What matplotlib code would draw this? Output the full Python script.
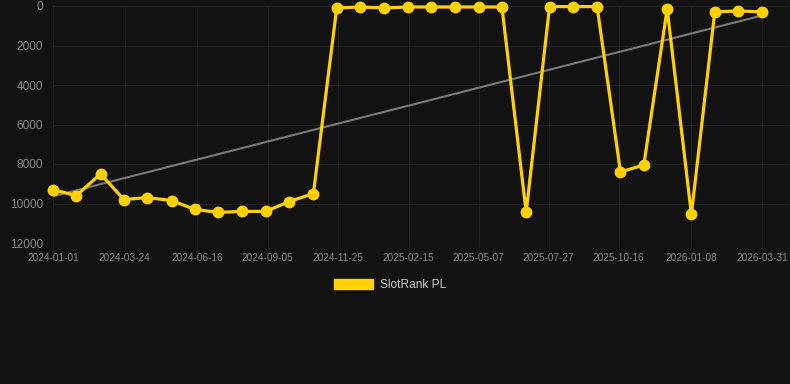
import numpy as np
import pandas as pd
import matplotlib
matplotlib.use("Agg")
import matplotlib.pyplot as plt
import matplotlib.dates as mdates
from matplotlib.patches import Patch

plt.rcParams["font.family"] = ["Liberation Sans", "DejaVu Sans"]

dates = [
    "2024-01-01", "2024-01-28", "2024-02-25", "2024-03-23", "2024-04-19",
    "2024-05-17", "2024-06-13", "2024-07-10", "2024-08-07", "2024-09-03",
    "2024-09-30", "2024-10-28", "2024-11-24", "2024-12-21", "2025-01-18",
    "2025-02-14", "2025-03-13", "2025-04-10", "2025-05-07", "2025-06-03",
    "2025-07-01", "2025-07-28", "2025-08-24", "2025-09-21", "2025-10-18",
    "2025-11-14", "2025-12-11", "2026-01-08", "2026-02-04", "2026-03-03",
    "2026-03-31",
]
ranks = [
    9300, 9600, 8500, 9800, 9700, 9850, 10300, 10450, 10400, 10400,
    9900, 9500, 100, 50, 100, 50, 50, 50, 50, 50,
    10450, 30, 30, 30, 8400, 8050, 150, 10550, 300, 250, 300,
]
tick_dates = [
    "2024-01-01", "2024-03-24", "2024-06-16", "2024-09-05", "2024-11-25",
    "2025-02-15", "2025-05-07", "2025-07-27", "2025-10-16", "2026-01-08",
    "2026-03-31",
]
y_ticks = [0, 2000, 4000, 6000, 8000, 10000, 12000]
series_name = "SlotRank PL"

BG = "#121212"
GRID = "#202020"
LABEL = "#8a8a8a"
GOLD = "#ffd100"

x = pd.to_datetime(dates)
y = np.array(ranks, dtype=float)

# linear trend over point index
idx = np.arange(len(y))
k, b = np.polyfit(idx, y, 1)
trend = k * idx + b

fig = plt.figure(figsize=(7.9, 3.84), dpi=100, facecolor=BG)
ax = fig.add_axes([53 / 790, 1 - 243 / 384, 1 - 53 / 790, 237 / 384])
ax.set_facecolor(BG)

ax.plot([x[0], x[-1]], [trend[0], trend[-1]], color="#7a7a7a", lw=1.5, zorder=2)
ax.plot(x, y, color=GOLD, lw=2.3, marker="o", ms=7.5, mec=GOLD, mfc=GOLD,
        solid_joinstyle="miter", clip_on=False, zorder=3)

ax.set_ylim(12000, 0)
ax.set_yticks(y_ticks)
ax.set_xlim(pd.Timestamp("2024-01-01"), pd.Timestamp("2024-01-01") + pd.Timedelta(days=852))
ax.set_xticks(pd.to_datetime(tick_dates))
ax.xaxis.set_major_formatter(mdates.DateFormatter("%Y-%m-%d"))

for s in ax.spines.values():
    s.set_visible(False)
ax.grid(True, color=GRID, lw=0.8)
ax.set_axisbelow(True)
ax.tick_params(axis="y", colors=LABEL, labelsize=8.6, length=0, pad=7)
ax.tick_params(axis="x", colors=LABEL, labelsize=7.2, length=4, color=GRID, pad=3)

handle = Patch(facecolor=GOLD, edgecolor=GOLD, label=series_name)
fig.legend(handles=[handle], loc="center", bbox_to_anchor=(390 / 790, 1 - 285 / 384),
           frameon=False, fontsize=8.6, labelcolor="#cccccc",
           handlelength=3.3, handleheight=0.9, handletextpad=0.6)

fig.savefig("out.png", dpi=100, facecolor=BG)
